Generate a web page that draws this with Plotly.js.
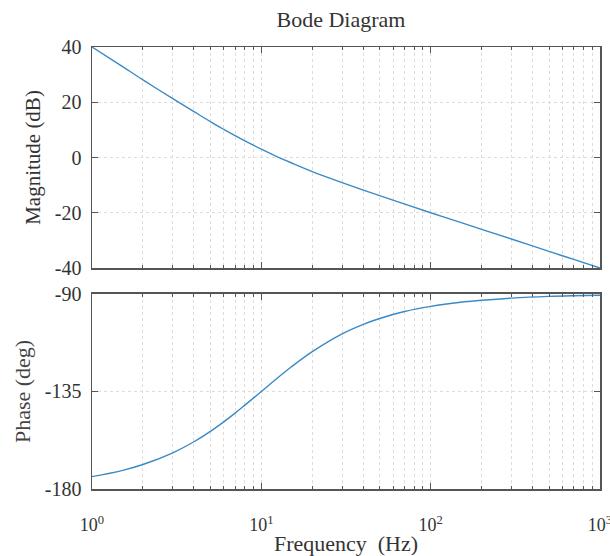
<!DOCTYPE html>
<html>
<head>
<meta charset="utf-8">
<script src="https://cdn.plot.ly/plotly-3.0.1.min.js"></script>
<style>html,body{margin:0;padding:0;background:#fff;overflow:hidden;}#chart{width:610px;height:556px;}</style>
</head>
<body>
<div id="chart"></div>
<script>
// Frequency samples (Hz)
const freq = [1, 1.5, 2, 3, 4, 5, 6, 7, 8, 10, 12, 15, 20, 30, 40, 50, 70, 100, 150, 200, 300, 500, 700, 1000];
// Magnitude (dB)
const magnitude = [40.0, 33.1, 28.1, 21.3, 16.6, 13.0, 10.2, 7.9, 6.0, 3.0, 0.7, -1.9, -5.1, -9.1, -11.8, -13.8, -16.8, -20.0, -23.5, -26.0, -29.5, -34.0, -36.9, -40.0];
// Phase (deg)
const phase = [-174.3, -171.5, -168.7, -163.3, -158.2, -153.4, -149.0, -145.0, -141.3, -135.0, -129.8, -123.7, -116.6, -108.4, -104.0, -101.3, -98.1, -95.7, -93.8, -92.9, -91.9, -91.1, -90.8, -90.6];
// Tick labels
const xTickVals = [1, 10, 100, 1000];
const xTickText = ['10<sup>0</sup>', '10<sup>1</sup>', '10<sup>2</sup>', '10<sup>3</sup>'];
const magTicks = [-40, -20, 0, 20, 40];
const magTickText = ['-40', '-20', '0', '20', '40'];
const phaseTicks = [-180, -135, -90];
const phaseTickText = ['-180', '-135', '-90'];

const minorVals = [];
[1, 10, 100].forEach(d => { for (let k = 2; k <= 9; k++) minorVals.push(k * d); });

const lineColor = '#3a8ac4';
const axisColor = '#555';
const gridColor = '#dcdcdc';
const fontFam = '"Liberation Serif", "Times New Roman", serif';

const xBase = {
  type: 'log', range: [0, 3],
  tickmode: 'array', tickvals: xTickVals, ticktext: xTickText,
  ticks: 'inside', ticklen: 6, tickcolor: axisColor, tickwidth: 1,
  showline: true, linecolor: axisColor, linewidth: 1.5, mirror: 'ticks',
  showgrid: true, gridcolor: gridColor, griddash: 'dot', gridwidth: 1,
  minor: { tickmode: 'array', tickvals: minorVals, ticks: 'inside', ticklen: 3, tickcolor: axisColor,
           showgrid: true, gridcolor: gridColor, griddash: 'dot', gridwidth: 1 },
  zeroline: false, ticklabeloverflow: 'allow',
  tickfont: { family: fontFam, size: 18, color: '#333' }
};

const yBase = {
  ticks: 'inside', ticklen: 6, tickcolor: axisColor, tickwidth: 1,
  showline: true, linecolor: axisColor, linewidth: 1.5, mirror: 'ticks',
  showgrid: true, gridcolor: gridColor, griddash: 'dot', zeroline: false,
  ticklabelstandoff: 5,
  tickfont: { family: fontFam, size: 20, color: '#333' }
};

const data = [
  { x: freq, y: magnitude, type: 'scatter', mode: 'lines', line: { color: lineColor, width: 1.4, shape: 'spline' }, xaxis: 'x', yaxis: 'y', hoverinfo: 'skip' },
  { x: freq, y: phase, type: 'scatter', mode: 'lines', line: { color: lineColor, width: 1.4, shape: 'spline' }, xaxis: 'x2', yaxis: 'y2', hoverinfo: 'skip' }
];

const layout = {
  width: 610, height: 556,
  margin: { l: 92, r: 10, t: 47, b: 67 },
  paper_bgcolor: '#fff', plot_bgcolor: '#fff',
  showlegend: false,
  font: { family: fontFam, color: '#333' },
  title: { text: 'Bode Diagram', x: 0.49, xref: 'paper', xanchor: 'center', y: 1 - 19 / 556, yref: 'container', yanchor: 'middle',
           font: { family: fontFam, size: 22, color: '#333' } },
  xaxis: Object.assign({}, xBase, { domain: [0, 1], anchor: 'y', showticklabels: false }),
  yaxis: Object.assign({}, yBase, {
    domain: [0.5, 1], anchor: 'x', range: [-40, 40],
    tickmode: 'array', tickvals: magTicks, ticktext: magTickText,
    title: { text: 'Magnitude (dB)', font: { family: fontFam, size: 21, color: '#333' }, standoff: 8 }
  }),
  xaxis2: Object.assign({}, xBase, { domain: [0, 1], anchor: 'y2', ticklabelstandoff: 19,
    title: { text: 'Frequency&nbsp; (Hz)', font: { family: fontFam, size: 22, color: '#333' }, standoff: 1 } }),
  yaxis2: Object.assign({}, yBase, {
    domain: [0, 0.4412], anchor: 'x2', range: [-180, -90],
    tickmode: 'array', tickvals: phaseTicks, ticktext: phaseTickText,
    title: { text: 'Phase (deg)', font: { family: fontFam, size: 22, color: '#444' }, standoff: 8 }
  })
};

Plotly.newPlot('chart', data, layout, { staticPlot: true, displayModeBar: false });
</script>
</body>
</html>
